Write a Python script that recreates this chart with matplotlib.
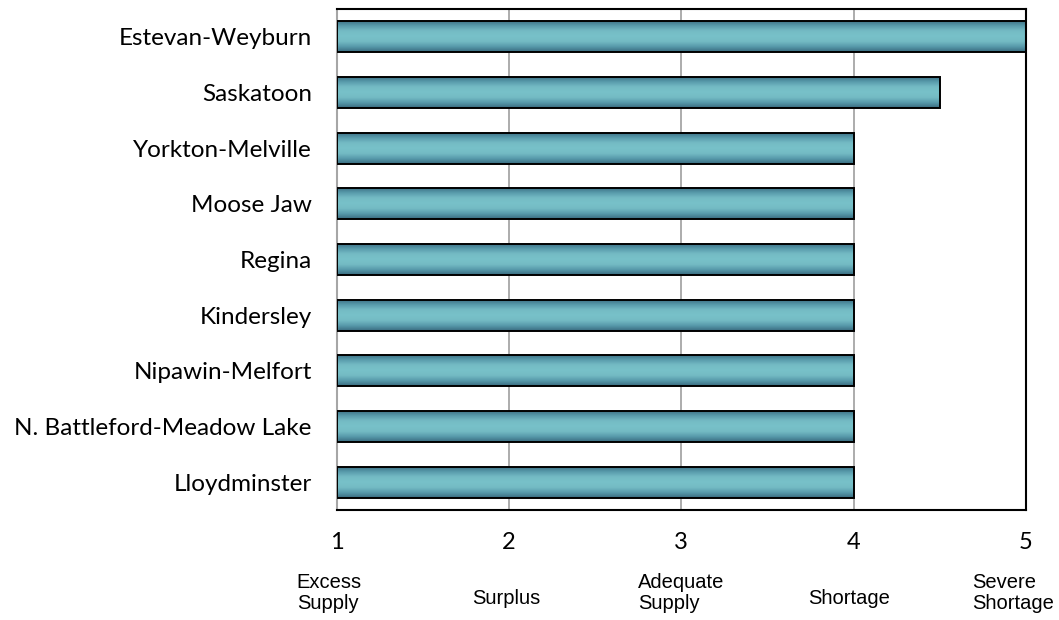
import numpy as np
import matplotlib.pyplot as plt
from matplotlib.colors import LinearSegmentedColormap
from matplotlib import transforms

regions = ["Estevan-Weyburn", "Saskatoon", "Yorkton-Melville", "Moose Jaw", "Regina",
           "Kindersley", "Nipawin-Melfort", "N. Battleford-Meadow Lake", "Lloydminster"]
scores = [5, 4.5, 4, 4, 4, 4, 4, 4, 4]
ticks = [1, 2, 3, 4, 5]
scale_labels = ["Excess\nSupply", "Surplus", "Adequate\nSupply", "Shortage", "Severe\nShortage"]
label_x = [0.768, 1.784, 2.747, 3.734, 4.687]  # left edge of each scale label

fig = plt.figure(figsize=(10.59, 6.2), dpi=100)
ax = fig.add_axes([0.318, 0.1774, 0.6506, 0.808])

# vertical shading: dark at top/bottom edge, light in the middle
cmap = LinearSegmentedColormap.from_list("teal", ["#386a7e", "#5799aa", "#74bbc4", "#78c1c9", "#74bbc4", "#5799aa", "#386a7e"])
grad = np.linspace(0, 1, 256).reshape(-1, 1)

h = 0.56
y = np.arange(len(regions))
bars = ax.barh(y, np.array(scores) - 1, left=1, height=h, facecolor="none",
               edgecolor="black", linewidth=1.4, zorder=3)
for b in bars:
    x0, y0 = b.get_x(), b.get_y()
    im = ax.imshow(grad, cmap=cmap, aspect="auto", interpolation="bicubic",
                   extent=[x0, x0 + b.get_width(), y0, y0 + b.get_height()], zorder=2)
    im.set_clip_path(b)

ax.set_xlim(1, 5)
ax.set_ylim(len(regions) - 0.5, -0.5)
ax.set_xticks(ticks)
ax.set_yticks(y)
ax.set_yticklabels(regions, fontsize=17.5, family="Lato")
ax.set_xticklabels([str(t) for t in ticks], fontsize=17, family="Lato")
ax.tick_params(axis="x", length=0, pad=16)
ax.tick_params(axis="y", length=0, pad=18)
ax.grid(axis="x", color="#a6a6a6", linewidth=1.3, zorder=1)
ax.set_axisbelow(True)
for s in ["top", "right", "bottom"]:
    ax.spines[s].set_color("black")
    ax.spines[s].set_linewidth(1.5)
ax.spines["left"].set_color("#a6a6a6")
ax.spines["left"].set_linewidth(1.5)

trans = transforms.blended_transform_factory(ax.transData, ax.transAxes)
for lx, lab in zip(label_x, scale_labels):
    ly = -0.166 if "\n" in lab else -0.176
    ax.text(lx, ly, lab, transform=trans, ha="left", va="center",
            fontsize=14.5, family="Liberation Sans", linespacing=1.15)

fig.savefig("out.png", dpi=100)
